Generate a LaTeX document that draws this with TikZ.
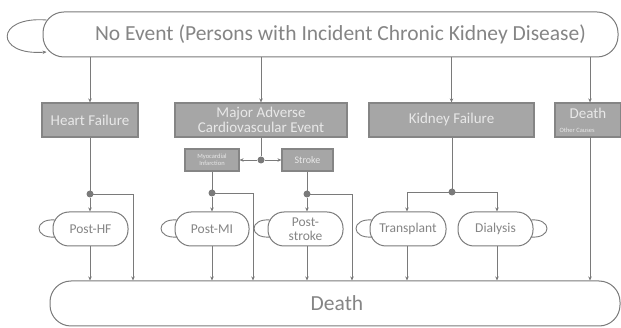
\documentclass[tikz,border=0pt]{standalone}
\usepackage{fontspec}
\setmainfont{Carlito}
\usetikzlibrary{arrows.meta}
\definecolor{ln}{HTML}{7A7A7A}
\definecolor{boxfill}{HTML}{A6A6A6}
\definecolor{boxline}{HTML}{858585}
\definecolor{boxtext}{HTML}{E8E8E8}
\definecolor{txt}{HTML}{858585}
\tikzset{
  conn/.style={draw=ln, line width=0.9pt},
  arr/.style={conn, -{Stealth[length=4pt,width=3.5pt]}},
  bigstate/.style={draw=ln, line width=1pt, rounded corners=21pt, fill=white, text=txt, font=\fontsize{21.5}{24}\selectfont, inner sep=0pt},
  graybox/.style={draw=boxline, line width=1.2pt, fill=boxfill, text=boxtext, font=\fontsize{15}{15}\selectfont, inner sep=0pt, align=center, minimum height=34pt},
  smallbox/.style={graybox, minimum height=22pt, font=\fontsize{10}{10}\selectfont},
  stadium/.style={draw=ln, line width=1pt, rounded corners=16pt, fill=white, text=txt, font=\fontsize{13.5}{14.5}\selectfont, inner sep=0pt, align=center, minimum width=75pt, minimum height=34pt},
  jdot/.style={circle, fill=ln, inner sep=0pt, minimum size=7pt},
}
\begin{document}
\begin{tikzpicture}[x=1pt,y=-1pt]
\useasboundingbox (0,0) rectangle (621,328);
% big states
\node[bigstate, minimum width=575pt, minimum height=45pt] (top) at (330.5,34.5) {\hspace*{20pt}No Event (Persons with Incident Chronic Kidney Disease)};
\node[bigstate, minimum width=570pt, minimum height=45pt] (death) at (335,303.5) {\hspace*{4pt}Death};
% gray event boxes
\node[graybox, minimum width=96pt] (hf) at (90,120) {Heart Failure};
\node[graybox, minimum width=172pt] (mace) at (261,120) {Major Adverse\\Cardiovascular Event};
\node[graybox, minimum width=165pt] (kf) at (451.5,120) {Kidney Failure};
\node[graybox, minimum width=66pt] (dth) at (588,120) {};
\node[text=boxtext, font=\fontsize{15}{15}\selectfont] (dthlbl) at (588,113) {Death};
\node[text=boxtext, font=\fontsize{6.5}{7}\selectfont, anchor=west] (dthsub) at (556,130) {Other Causes};
\node[smallbox, minimum width=54pt, font=\fontsize{6.5}{7}\selectfont] (mi) at (212,160) {Myocardial\\Infarction};
\node[smallbox, minimum width=51pt] (stroke) at (307.5,160) {Stroke};
% post states
\node[stadium] (phf) at (90.5,229) {Post-HF};
\node[stadium, minimum width=74pt] (pmi) at (212,229) {Post-MI};
\node[stadium] (pst) at (305.5,229) {Post-\\stroke};
\node[stadium, minimum width=76pt] (ptx) at (408,229) {Transplant};
\node[stadium] (pdi) at (495.5,229) {Dialysis};
% self loops
\draw[arr] ([xshift=4pt,yshift=14.5pt]top.west) .. controls +(-52,-4) and +(-52,4) .. ([xshift=4pt,yshift=-17.5pt]top.west);
\foreach \n in {phf,pmi,pst,ptx}{
  \draw[conn] ([xshift=3pt,yshift=9pt]\n.west) .. controls +(-22,-2) and +(-22,2) .. ([xshift=3pt,yshift=-8pt]\n.west);
}
\draw[conn] ([xshift=-3pt,yshift=9pt]pdi.east) .. controls +(22,-2) and +(22,2) .. ([xshift=-3pt,yshift=-8pt]pdi.east);
% top to events
\draw[arr] (hf.north |- top.south) -- (hf.north);
\draw[arr] (mace.north |- top.south) -- (mace.north);
\draw[arr] (kf.north |- top.south) -- (kf.north);
\coordinate (dx) at (590,137);
\draw[arr] (dx |- top.south) -- (dx |- dth.north);
\draw[arr] (dx) -- (dx |- death.north);
% MACE split
\node[jdot] (j0) at (261,160) {};
\draw[conn] (mace.south) -- (j0);
\draw[arr] (j0) -- (mi.east);
\draw[arr] (j0) -- (stroke.west);
% heart failure
\node[jdot] (j1) at (90,194) {};
\coordinate (c1) at (133,194);
\draw[conn] (hf.south) -- (j1.center);
\draw[arr] (j1) -- (j1 |- phf.north);
\draw[arr] (j1.center) -- (c1) -- (c1 |- death.north);
\draw[arr] (j1 |- phf.south) -- (j1 |- death.north);
% MI
\node[jdot] (j2) at (212,193) {};
\coordinate (c2) at (253,193);
\draw[conn] (mi.south) -- (j2.center);
\draw[arr] (j2) -- (pmi.north);
\draw[arr] (j2.center) -- (c2) -- (c2 |- death.north);
\draw[arr] (pmi.south) -- (pmi.south |- death.north);
% stroke
\node[jdot] (j3) at (307,194) {};
\coordinate (c3) at (352,194);
\draw[conn] (stroke.south -| j3) -- (j3.center);
\draw[arr] (j3) -- (j3 |- pst.north);
\draw[arr] (j3.center) -- (c3) -- (c3 |- death.north);
\draw[arr] (j3 |- pst.south) -- (j3 |- death.north);
% kidney failure
\node[jdot] (j4) at (452,192) {};
\coordinate (c4a) at (407,192);
\coordinate (c4b) at (497,192);
\draw[conn] (kf.south -| j4) -- (j4.center);
\draw[arr] (c4b) -- (c4a) -- (c4a |- ptx.north);
\draw[arr] (c4a) -- (c4b) -- (c4b |- pdi.north);
\draw[arr] (c4a |- ptx.south) -- (c4a |- death.north);
\draw[arr] (c4b |- pdi.south) -- (c4b |- death.north);
\end{tikzpicture}
\end{document}
